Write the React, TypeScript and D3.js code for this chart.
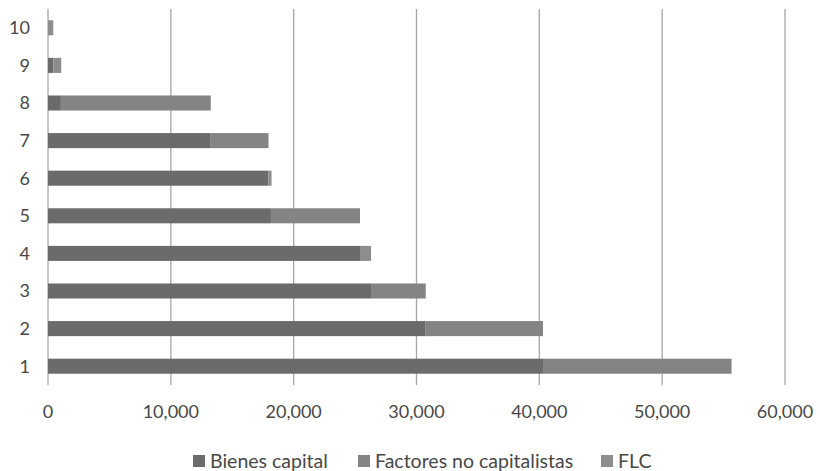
import React from "react";
import * as d3 from "d3";

const categories = ["1", "2", "3", "4", "5", "6", "7", "8", "9", "10"];
const bienesCapital = [40300, 30750, 26300, 25400, 18150, 17950, 13250, 1050, 430, 0];
const factoresNoCap = [15350, 9550, 4450, 0, 7250, 0, 4700, 12200, 0, 0];
const flc = [0, 0, 0, 900, 0, 250, 0, 0, 650, 430];
const seriesNames = ["Bienes capital", "Factores no capitalistas", "FLC"];
const seriesColors = ["#6b6b6b", "#848484", "#8d8d8d"];
const xTicks = [0, 10000, 20000, 30000, 40000, 50000, 60000];

const W = 820;
const H = 471;

export default function App() {
  const x = d3.scaleLinear().domain([0, 60000]).range([48, 785]);
  const y = d3
    .scaleBand<string>()
    .domain([...categories].reverse())
    .range([9, 385])
    .paddingInner(0.6)
    .paddingOuter(0.3);

  const rows = categories.map((c, i) => ({
    cat: c,
    vals: [bienesCapital[i], factoresNoCap[i], flc[i]],
  }));
  const stack = d3.stack<any>().keys(["0", "1", "2"]).value((d, k) => d.vals[+k]);
  const stacked = stack(rows as any);
  const fmt = d3.format(",");

  const legendItems = [
    { x: 193, name: seriesNames[0], color: seriesColors[0] },
    { x: 358, name: seriesNames[1], color: seriesColors[1] },
    { x: 601, name: seriesNames[2], color: seriesColors[2] },
  ];

  return (
    <svg
      width={W}
      height={H}
      style={{ position: "absolute", left: 0, top: 0, background: "#fff" }}
      fontFamily="Lato, 'Open Sans', sans-serif"
    >
      {xTicks.map((t) => (
        <line
          key={t}
          x1={x(t)}
          x2={x(t)}
          y1={9}
          y2={385}
          stroke="#a6a6a6"
          strokeWidth={1.3}
        />
      ))}
      {stacked.map((layer, si) => (
        <g key={si} fill={seriesColors[si]}>
          {layer.map((d: any, i: number) =>
            d[1] - d[0] > 0 ? (
              <rect
                key={i}
                x={x(d[0])}
                y={y(rows[i].cat)!}
                width={x(d[1]) - x(d[0])}
                height={y.bandwidth()}
              />
            ) : null
          )}
        </g>
      ))}
      {categories.map((c) => (
        <text
          key={c}
          x={30}
          y={y(c)! + y.bandwidth() / 2}
          dy="0.36em"
          textAnchor="end"
          fontSize={18}
          fill="#484848"
        >
          {c}
        </text>
      ))}
      {xTicks.map((t) => (
        <text
          key={t}
          x={x(t)}
          y={412}
          dy="0.36em"
          textAnchor="middle"
          fontSize={18}
          fill="#484848"
        >
          {fmt(t)}
        </text>
      ))}
      {legendItems.map((l) => (
        <g key={l.name}>
          <rect x={l.x} y={455} width={12} height={12} fill={l.color} />
          <text x={l.x + 17} y={460.5} dy="0.36em" fontSize={19.5} fill="#484848">
            {l.name}
          </text>
        </g>
      ))}
    </svg>
  );
}
